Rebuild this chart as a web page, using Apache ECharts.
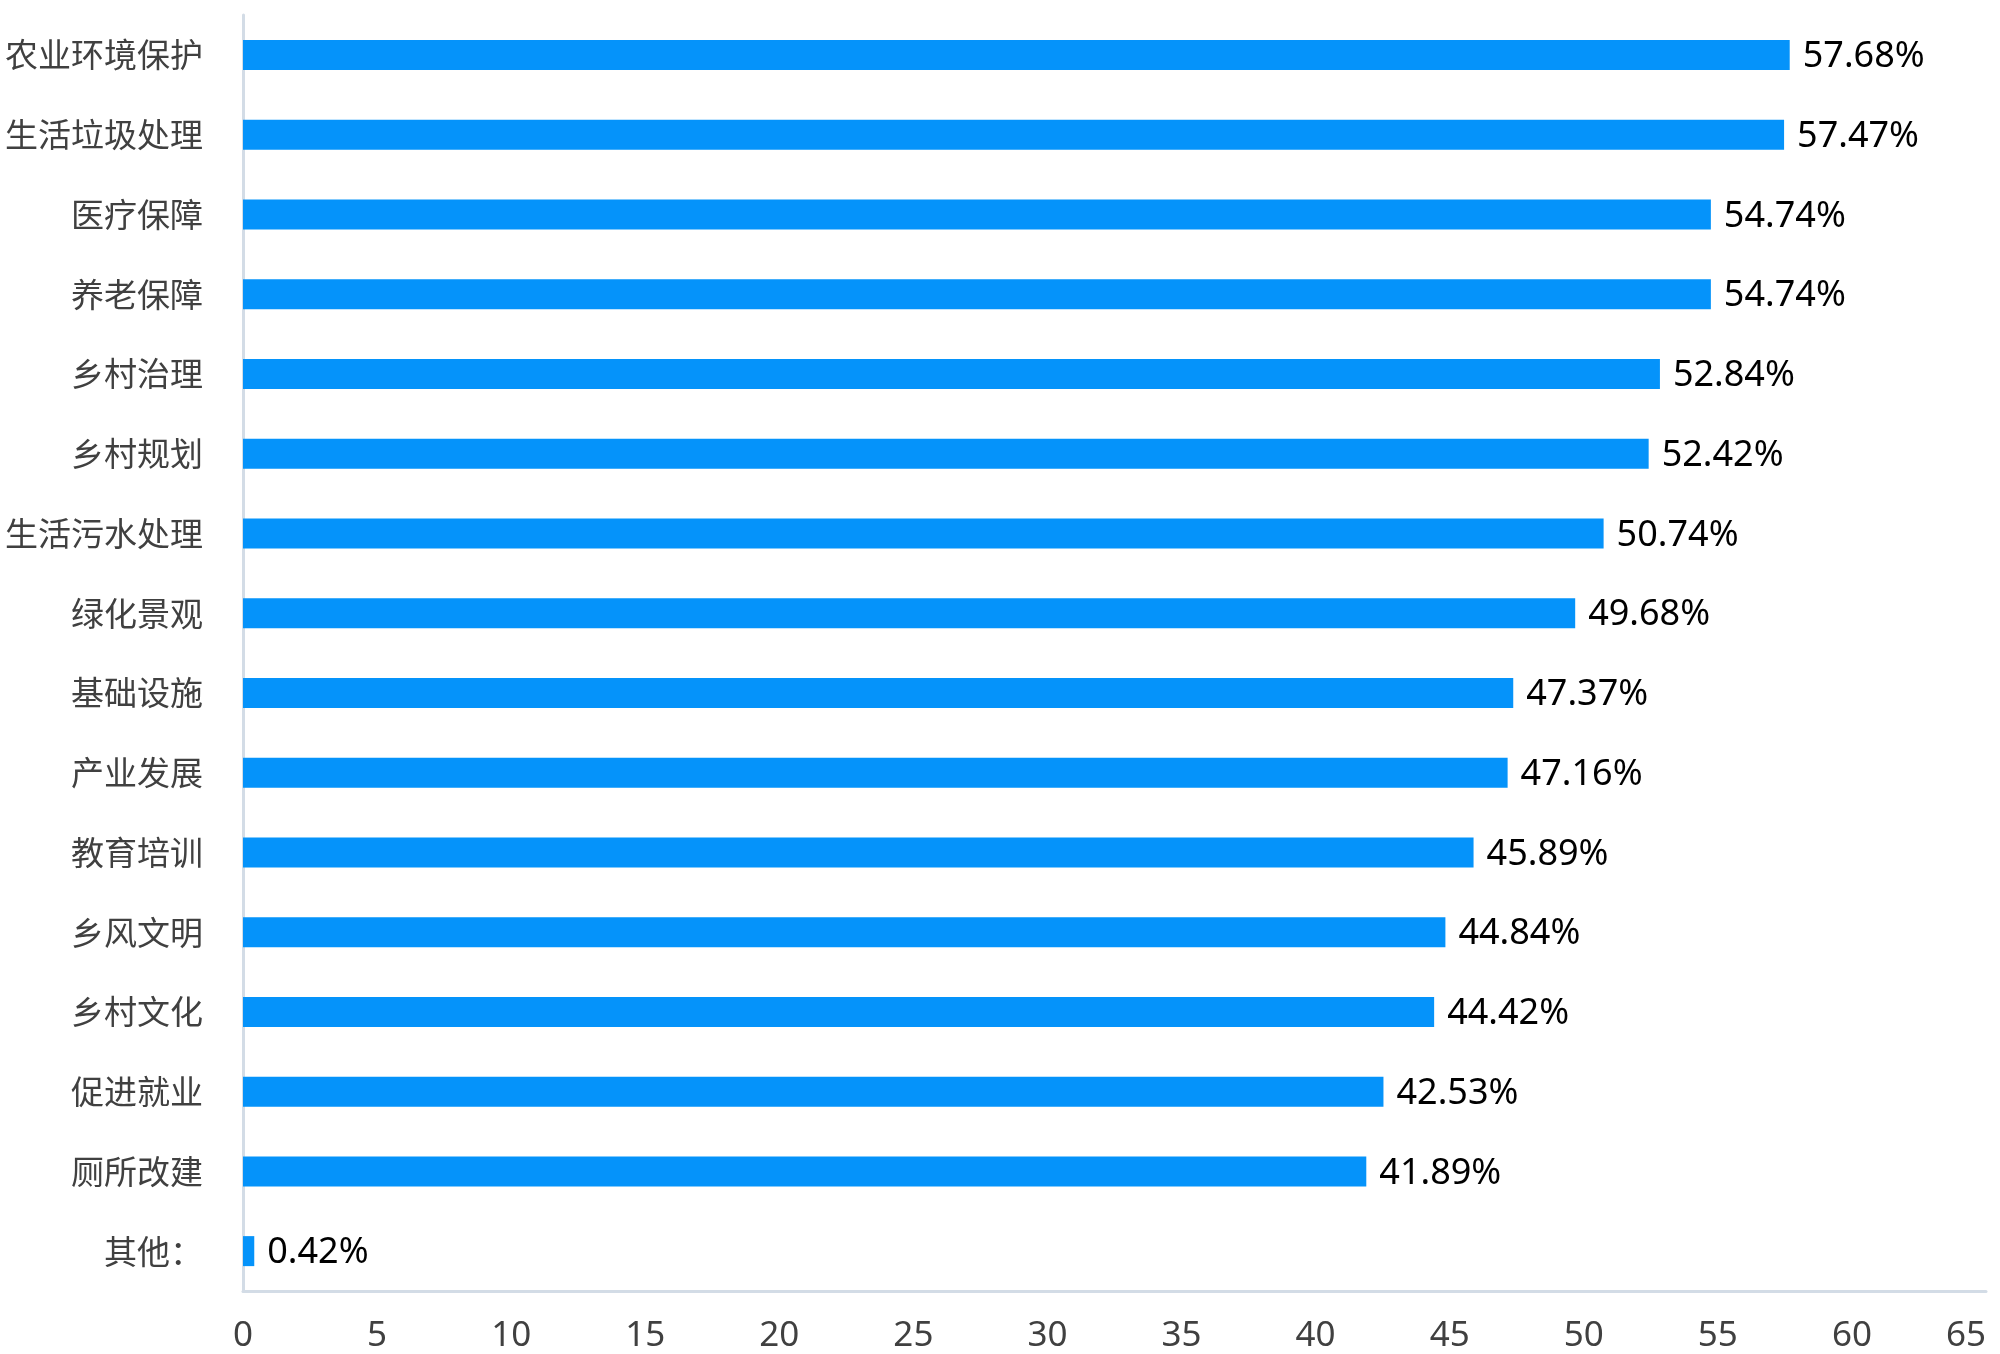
<!DOCTYPE html>
<html>
<head>
<meta charset="utf-8">
<script src="https://cdn.jsdelivr.net/npm/echarts@6/dist/echarts.min.js"></script>
<style>
html,body{margin:0;padding:0;background:#fff;}
#c{width:2000px;height:1354px;}
</style>
</head>
<body>
<div id="c"></div>
<script>
const categories = ['农业环境保护','生活垃圾处理','医疗保障','养老保障','乡村治理','乡村规划','生活污水处理','绿化景观','基础设施','产业发展','教育培训','乡风文明','乡村文化','促进就业','厕所改建','其他：'];
const values = [57.68,57.47,54.74,54.74,52.84,52.42,50.74,49.68,47.37,47.16,45.89,44.84,44.42,42.53,41.89,0.42];
const xTicks = {min:0, max:65, interval:5};

const chart = echarts.init(document.getElementById('c'));
chart.setOption({
  backgroundColor:'#fff',
  animation:false,
  grid:{left:243, right:14, top:15, bottom:62, containLabel:false},
  xAxis:{
    type:'value', min:xTicks.min, max:xTicks.max, interval:xTicks.interval,
    axisLine:{show:true, lineStyle:{color:'#d3dce6', width:3}},
    axisTick:{show:false},
    splitLine:{show:false},
    axisLabel:{color:'#404040', fontSize:35, fontFamily:'Noto Sans, sans-serif', margin:28, alignMaxLabel:'right'}
  },
  yAxis:{
    type:'category', data:categories, inverse:true,
    axisLine:{show:true, lineStyle:{color:'#d3dce6', width:3}},
    axisTick:{show:false},
    axisLabel:{color:'#404040', fontSize:33, fontFamily:'Noto Sans CJK SC, sans-serif', margin:40}
  },
  series:[{
    type:'bar', data:values, barWidth:30,
    itemStyle:{color:'#0593FA'},
    label:{show:true, position:'right', distance:13, color:'#000', fontSize:36, fontFamily:'Noto Sans, sans-serif',
      offset:[0,2], formatter:p=>p.value.toFixed(2)+'%'}
  }]
});
</script>
</body>
</html>
